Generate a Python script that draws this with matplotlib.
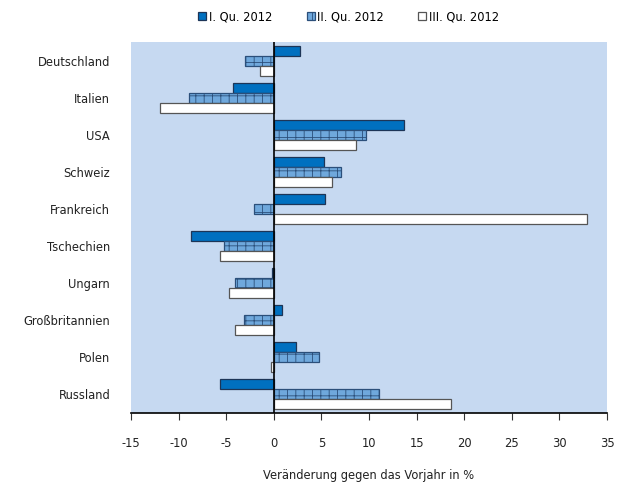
import numpy as np
import matplotlib.pyplot as plt

# values
laender = ["Deutschland", "Italien", "USA", "Schweiz", "Frankreich",
           "Tschechien", "Ungarn", "Großbritannien", "Polen", "Russland"]
q1 = [2.8, -4.3, 13.7, 5.3, 5.4, -8.7, -0.2, 0.9, 2.3, -5.6]
q2 = [-3.0, -8.9, 9.7, 7.1, -2.1, -5.25, -4.1, -3.1, 4.7, 11.1]
q3 = [-1.4, -12.0, 8.6, 6.1, 32.9, -5.7, -4.7, -4.1, -0.3, 18.6]
serien = ["I. Qu. 2012", "II. Qu. 2012", "III. Qu. 2012"]
xticks = [-15, -10, -5, 0, 5, 10, 15, 20, 25, 30, 35]

plt.rcParams['font.family'] = ['DejaVu Sans']
plt.rcParams['hatch.color'] = '#4a86c5'
plt.rcParams['hatch.linewidth'] = 0.6

fig = plt.figure(figsize=(6.28, 4.82), dpi=100)
ax = fig.add_axes([0.2086, 0.1432, 0.758, 0.7697])
ax.set_facecolor('#c6d9f1')

y = np.arange(len(laender))
h = 0.27

ax.barh(y - h, q1, height=h, color='#0070c0', edgecolor='#1d3557',
        linewidth=0.9, label=serien[0], zorder=2)
ax.barh(y, q2, height=h, color='#6fa8dc', edgecolor='#2b4f7a',
        linewidth=0.9, hatch='++', label=serien[1], zorder=2)
ax.barh(y + h, q3, height=h, color='white', edgecolor='#555555',
        linewidth=0.9, label=serien[2], zorder=2)

ax.axvline(0, color='black', linewidth=1.2, zorder=3)

ax.set_xlim(-15, 35)
ax.set_ylim(len(laender) - 0.5, -0.5)
ax.set_xticks(xticks)
ax.set_xticklabels([str(t) for t in xticks])
ax.set_yticks(y)
ax.set_yticklabels(laender)
ax.tick_params(axis='y', length=0, pad=15, labelsize=8.3, colors='#222222')
ax.tick_params(axis='x', length=5, direction='out', pad=12, labelsize=8.3,
               colors='#222222', color='#333333')

for s in ['top', 'right', 'left']:
    ax.spines[s].set_visible(False)
ax.spines['bottom'].set_linewidth(1.2)

ax.set_xlabel("Veränderung gegen das Vorjahr in %", fontsize=8.3,
              color='#222222', labelpad=14)

fig.legend(loc='upper center', bbox_to_anchor=(0.555, 1.0), ncol=3,
           frameon=False, fontsize=8.3, handlelength=0.7, handleheight=0.7,
           handletextpad=0.2, columnspacing=3.0)

plt.savefig("out.png", dpi=100)
plt.close()
